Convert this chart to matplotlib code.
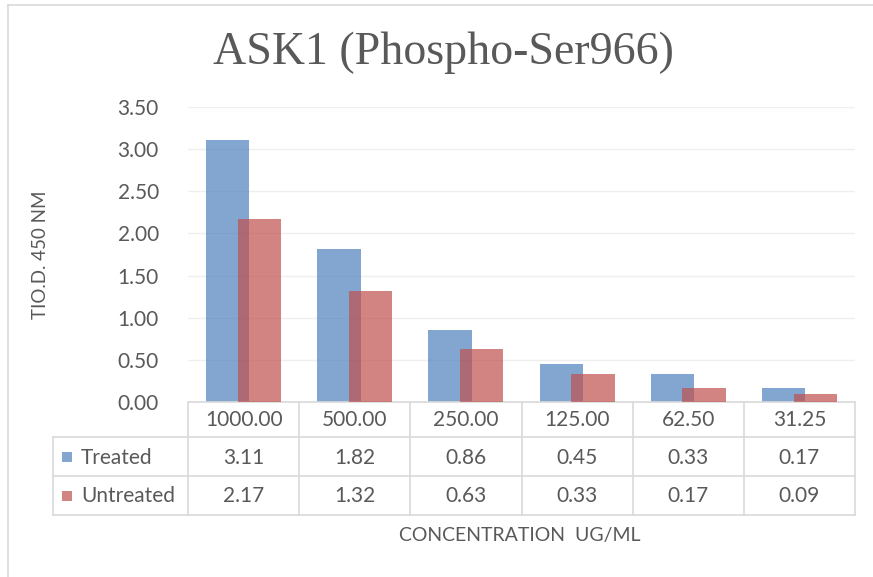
import numpy as np
import matplotlib
matplotlib.use("Agg")
import matplotlib.pyplot as plt
from matplotlib.patches import Rectangle
from matplotlib.lines import Line2D

# data
concentrations = ["1000.00", "500.00", "250.00", "125.00", "62.50", "31.25"]
treated = [3.11, 1.82, 0.86, 0.45, 0.33, 0.17]
untreated = [2.17, 1.32, 0.63, 0.33, 0.17, 0.09]
series_names = ["Treated", "Untreated"]
yticks = [0.0, 0.5, 1.0, 1.5, 2.0, 2.5, 3.0, 3.5]

W, H = 873, 577
txt = "#595959"
grid_c = "#EFEFEF"
tab_c = "#D9D9D9"
blue = "#4F81BD"
red = "#C0504D"
fs = 15
plt.rcParams['font.family'] = ['Lato', 'DejaVu Sans']

fig = plt.figure(figsize=(W / 100, H / 100), dpi=100)

def fx(px):
    return px / W

def fy(py):
    return 1 - py / H

# plot area in pixels
x0, x1, ytop, ybot = 188, 855, 107, 402
ax = fig.add_axes([fx(x0), fy(ybot), fx(x1 - x0), (ybot - ytop) / H])

n = len(concentrations)
x = np.arange(n)
bw = 0.39
off = 0.143
ax.bar(x - off, treated, bw, color=blue, alpha=0.7, zorder=2)
ax.bar(x + off, untreated, bw, color=red, alpha=0.7, zorder=3)

ax.set_xlim(-0.5, n - 0.5)
ax.set_ylim(0, 3.5)
ax.set_yticks(yticks)
ax.set_yticklabels(["%.2f" % v for v in yticks], color=txt, fontsize=fs)
ax.tick_params(axis='y', length=0, pad=21)
ax.set_xticks([])
ax.yaxis.grid(True, color=grid_c, lw=1)
ax.set_axisbelow(True)
for s in ["top", "right", "left"]:
    ax.spines[s].set_visible(False)
ax.spines["bottom"].set_color(tab_c)
ax.spines["bottom"].set_linewidth(1.2)

# data table under the axis
r0, r1, r2, r3 = 402, 437, 476, 515
lx = 53
lines = []
lines.append(((lx, x1), (r1, r1)))
lines.append(((lx, x1), (r2, r2)))
lines.append(((lx, x1), (r3, r3)))
lines.append(((lx, lx), (r1, r3)))
cw = (x1 - x0) / n
for i in range(n + 1):
    xx = x0 + i * cw
    lines.append(((xx, xx), (r0 + 1, r3)))
for (xs, ys) in lines:
    fig.add_artist(Line2D([fx(v) for v in xs], [fy(v) for v in ys],
                          color=tab_c, lw=1.2))

for i, c in enumerate(concentrations):
    cx = x0 + (i + 0.5) * cw
    fig.text(fx(cx), fy((r0 + r1) / 2 + 1), c, ha="center", va="center",
             color=txt, fontsize=fs)
    fig.text(fx(cx), fy((r1 + r2) / 2 + 1), "%.2f" % treated[i], ha="center",
             va="center", color=txt, fontsize=fs)
    fig.text(fx(cx), fy((r2 + r3) / 2 + 1), "%.2f" % untreated[i], ha="center",
             va="center", color=txt, fontsize=fs)

for name, col, (ra, rb) in zip(series_names, [blue, red], [(r1, r2), (r2, r3)]):
    cy = (ra + rb) / 2
    fig.add_artist(Rectangle((fx(62), fy(cy + 5)), fx(10), 10 / H,
                             color=col, alpha=0.7, lw=0))
    fig.text(fx(81), fy(cy + 1), name, ha="left", va="center",
             color=txt, fontsize=fs)

# titles and axis labels
fig.text(fx(443), fy(53), "ASK1 (Phospho-Ser966)", ha="center", va="center",
         color=txt, fontsize=33, family=["Liberation Serif"])
fig.text(fx(40), fy(255), "TIO.D. 450 NM", rotation=90, ha="center",
         va="center", color=txt, fontsize=13.5)
fig.text(fx(520), fy(536), "CONCENTRATION  UG/ML", ha="center", va="center",
         color=txt, fontsize=14)

# outer chart border (top and left visible)
fig.add_artist(Line2D([fx(8), 1], [fy(5), fy(5)], color=tab_c, lw=1.2))
fig.add_artist(Line2D([fx(8), fx(8)], [fy(5), 0], color=tab_c, lw=1.2))

fig.savefig("out.png", dpi=100)
